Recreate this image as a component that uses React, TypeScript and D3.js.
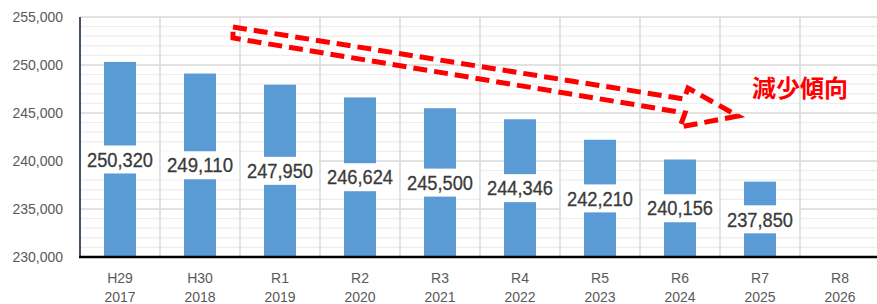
import React from "react";
import * as d3 from "d3";

const eras = ["H29", "H30", "R1", "R2", "R3", "R4", "R5", "R6", "R7", "R8"];
const years = ["2017", "2018", "2019", "2020", "2021", "2022", "2023", "2024", "2025", "2026"];
const values: (number | null)[] = [250320, 249110, 247950, 246624, 245500, 244346, 242210, 240156, 237850, null];
const yTicks = [230000, 235000, 240000, 245000, 250000, 255000];
const annotationText = "減少傾向";

const W = 877;
const H = 304;

export default function App() {
  const x = d3.scaleBand<string>().domain(eras).range([80, 880]).padding(0);
  const y = d3.scaleLinear().domain([230000, 255000]).range([257, 17]);
  const bw = x.bandwidth();
  const barW = 32;
  const fmt = d3.format(",");
  const minor = d3.range(231000, 255000, 1000).filter((v) => v % 5000 !== 0);

  const arrowPts: [number, number][] = [
    [233, 27], [684, 99], [688, 88], [738, 116], [680, 127], [685, 113], [233, 38],
  ];

  return (
    <svg width={W} height={H} style={{ position: "absolute", left: 0, top: 0, background: "#fff" }}>
      <rect x={0} y={0} width={W} height={H} fill="#fff" />
      {minor.map((v) => (
        <line key={"m" + v} x1={80} x2={W} y1={y(v)} y2={y(v)} stroke="#eeeeee" strokeWidth={1.2} />
      ))}
      {yTicks.map((v) => (
        <line key={"g" + v} x1={80} x2={W} y1={y(v)} y2={y(v)} stroke="#d9d9d9" strokeWidth={1.5} />
      ))}
      {eras.slice(1).map((e) => (
        <line key={"v" + e} x1={x(e)!} x2={x(e)!} y1={y(255000)} y2={y(230000)} stroke="#d9d9d9" strokeWidth={1.5} />
      ))}
      {values.map((v, i) =>
        v == null ? null : (
          <rect
            key={"b" + i}
            x={x(eras[i])! + bw / 2 - barW / 2}
            y={y(v)}
            width={barW}
            height={y(230000) - y(v)}
            fill="#5B9BD5"
          />
        )
      )}
      <line x1={80} x2={80} y1={y(255000)} y2={y(230000)} stroke="#44546A" strokeWidth={2} />
      {values.map((v, i) => {
        if (v == null) return null;
        const cy = (y(v) + y(230000)) / 2;
        const cx = x(eras[i])! + bw / 2;
        return (
          <g key={"l" + i}>
            <rect x={x(eras[i])! + 1} y={cy - 14} width={bw - 2} height={28} fill="#fff" />
            <text
              x={cx}
              y={cy}
              dy="0.36em"
              textAnchor="middle"
              fontFamily="'Liberation Sans', Arial, sans-serif"
              fontSize={20}
              textLength={66}
              lengthAdjust="spacingAndGlyphs"
              fill="#3a3a3a"
              stroke="#3a3a3a"
              strokeWidth={0.3}
            >
              {fmt(v)}
            </text>
          </g>
        );
      })}
      <line x1={79} x2={W} y1={y(230000)} y2={y(230000)} stroke="#000" strokeWidth={2.5} />
      {yTicks.map((v) => (
        <text
          key={"t" + v}
          x={63}
          y={y(v)}
          dy="0.35em"
          textAnchor="end"
          fontFamily="'Liberation Sans', Arial, sans-serif"
          fontSize={14}
          fill="#595959"
        >
          {fmt(v)}
        </text>
      ))}
      {eras.map((e, i) => (
        <g key={"x" + e}>
          <text x={x(e)! + bw / 2} y={283} textAnchor="middle" fontFamily="'Liberation Sans', Arial, sans-serif" fontSize={14} fill="#595959">
            {e}
          </text>
          <text x={x(e)! + bw / 2} y={302} textAnchor="middle" fontFamily="'Liberation Sans', Arial, sans-serif" fontSize={14} fill="#595959">
            {years[i]}
          </text>
        </g>
      ))}
      <polygon
        points={arrowPts.map((p) => p.join(",")).join(" ")}
        fill="none"
        stroke="#ff0000"
        strokeWidth={5}
        strokeDasharray="14 7"
        strokeLinejoin="miter"
      />
      <text x={752} y={97} fontFamily="'Noto Sans CJK JP', sans-serif" fontWeight={700} fontSize={24} fill="#ff0000">
        {annotationText}
      </text>
    </svg>
  );
}
